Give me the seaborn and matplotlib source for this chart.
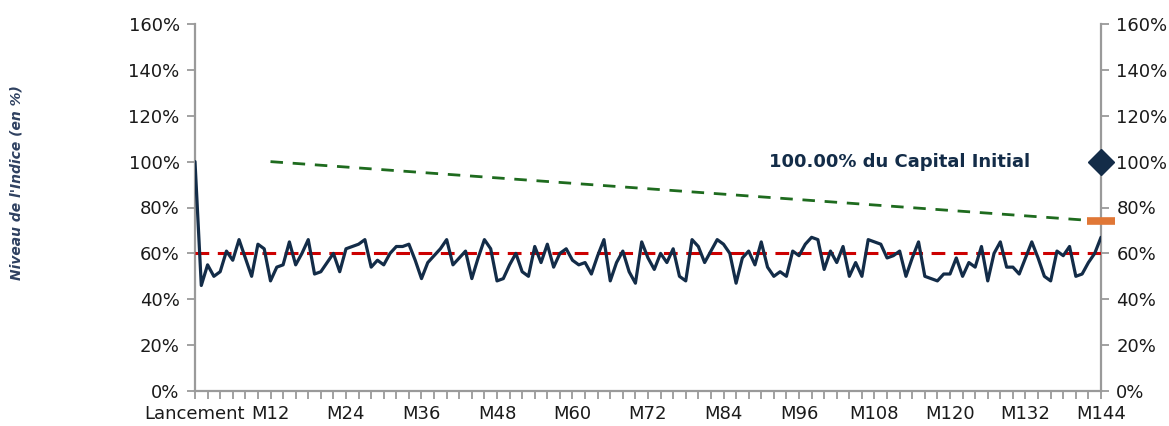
import matplotlib
matplotlib.use("Agg")
import matplotlib.pyplot as plt
import seaborn as sns
import pandas as pd
import numpy as np

# ---- data ----
months = list(range(0, 145))
index_level = [
    100, 46, 55, 50, 52, 61, 57, 66, 58, 50, 64, 62, 48, 54, 55, 65, 55, 60, 66, 51,
    52, 56, 60, 52, 62, 63, 64, 66, 54, 57, 55, 60, 63, 63, 64, 57, 49, 56, 59, 62,
    66, 55, 58, 61, 49, 58, 66, 62, 48, 49, 55, 60, 52, 50, 63, 56, 64, 54, 60, 62,
    57, 55, 56, 51, 59, 66, 48, 56, 61, 52, 47, 65, 58, 53, 60, 56, 62, 50, 48, 66,
    63, 56, 61, 66, 64, 60, 47, 58, 61, 55, 65, 54, 50, 52, 50, 61, 59, 64, 67, 66,
    53, 61, 56, 63, 50, 56, 50, 66, 65, 64, 58, 59, 61, 50, 58, 65, 50, 49, 48, 51,
    51, 58, 50, 56, 54, 63, 48, 60, 65, 54, 54, 51, 58, 65, 58, 50, 48, 61, 59, 63,
    50, 51, 56, 60, 67,
]
barrier_months = [12, 144]
barrier_levels = [100, 74]
protection_level = 60
capital_month = 144
capital_level = 100
final_barrier_level = 74
capital_label = "100.00% du Capital Initial"
tick_months = [0, 12, 24, 36, 48, 60, 72, 84, 96, 108, 120, 132, 144]
tick_labels = ["Lancement", "M12", "M24", "M36", "M48", "M60", "M72", "M84",
               "M96", "M108", "M120", "M132", "M144"]
y_ticks = [0, 20, 40, 60, 80, 100, 120, 140, 160]
y_label = "Niveau de l'Indice (en %)"

NAVY = "#132c48"
RED = "#cc0000"
GREEN = "#1e6b1e"
ORANGE = "#e07736"
SPINE = "#9a9a9a"
TXT = "#1a1a1a"

sns.set_style("white")
plt.rcParams["font.family"] = ["DejaVu Sans"]

fig = plt.figure(figsize=(11.69, 4.26), dpi=100)
ax = fig.add_axes([195 / 1169, 1 - 391 / 426, (1101 - 195) / 1169, (391 - 24) / 426])

df = pd.DataFrame({"month": months, "level": index_level})
sns.lineplot(data=df, x="month", y="level", ax=ax, color=NAVY, linewidth=2.3, zorder=4)

ax.axhline(protection_level, color=RED, linestyle=(0, (4.5, 2.8)), linewidth=2.2, zorder=3)

bdf = pd.DataFrame({"month": barrier_months, "level": barrier_levels})
sns.lineplot(data=bdf, x="month", y="level", ax=ax, color=GREEN, linewidth=2.0,
             linestyle=(0, (4.5, 3.5)), zorder=3)

ax.plot([capital_month], [final_barrier_level], marker="_", markersize=20,
        markeredgewidth=5.5, color=ORANGE, clip_on=False, zorder=6)
ax.plot([capital_month], [capital_level], marker="D", markersize=13,
        color=NAVY, clip_on=False, zorder=7, linestyle="none")

ax.text(132.7, capital_level, capital_label, ha="right", va="center",
        fontsize=13, fontweight="bold", color=NAVY)

ax.set_xlim(0, 144)
ax.set_ylim(0, 160)
ax.set_xticks(tick_months)
ax.set_xticklabels(tick_labels)
ax.set_xticks(list(range(0, 145, 2)), minor=True)
ax.set_yticks(y_ticks)
ax.set_yticklabels([f"{v}%" for v in y_ticks])
ax.set_xlabel("")
ax.set_ylabel("")

ax.spines["top"].set_visible(False)
for s in ["left", "right", "bottom"]:
    ax.spines[s].set_visible(True)
    ax.spines[s].set_color(SPINE)
    ax.spines[s].set_linewidth(1.6)

ax.tick_params(axis="y", which="both", left=True, right=True, labelleft=True,
               labelright=True, direction="out", length=6, width=1.3,
               color=SPINE, labelsize=13, labelcolor=TXT, pad=5)
ax.tick_params(axis="x", which="both", bottom=True, direction="out", length=6,
               width=1.3, color=SPINE, labelsize=13, labelcolor=TXT, pad=4)

fig.text(17 / 1169, 1 - 183 / 426, y_label, rotation=90, ha="center", va="center",
         fontsize=10, fontweight="bold", fontstyle="italic", color="#2e4060")

fig.savefig("out.png", dpi=100)
